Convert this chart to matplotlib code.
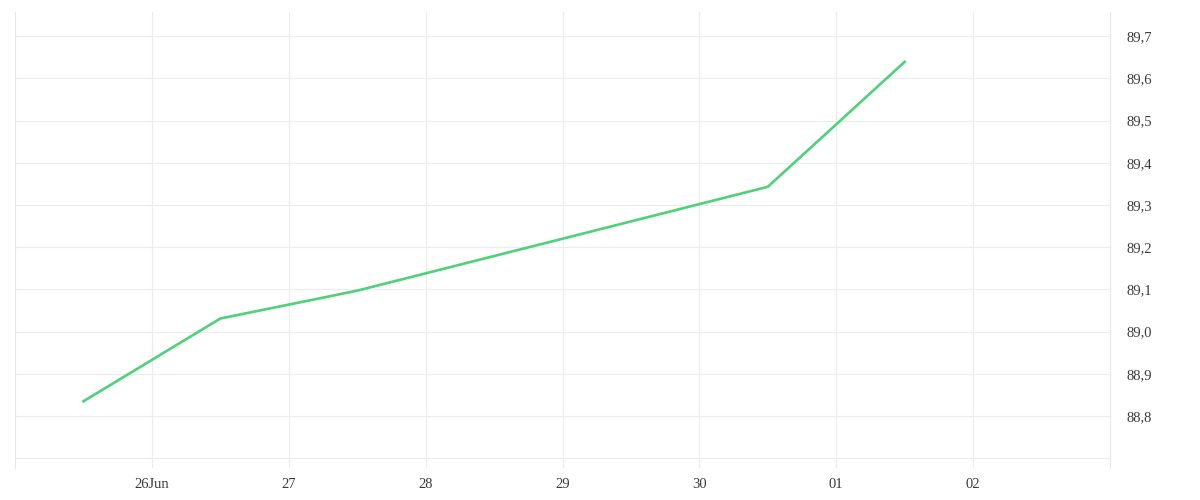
import matplotlib.pyplot as plt
import matplotlib.dates as mdates
from matplotlib.ticker import FuncFormatter, MultipleLocator
import pandas as pd

dates = pd.to_datetime(['2024-06-25 12:00', '2024-06-26 12:00', '2024-06-27 12:00',
                        '2024-06-30 12:00', '2024-07-01 12:00'])
values = [88.835, 89.031, 89.097, 89.343, 89.639]

tick_dates = pd.date_range('2024-06-26', '2024-07-02', freq='D')
tick_labels = ['26Jun', '27', '28', '29', '30', '01', '02']

plt.rcParams['font.family'] = ['Liberation Serif', 'DejaVu Serif']

fig = plt.figure(figsize=(12, 5), dpi=100)
ax = fig.add_axes([0.0125, 0.064, 0.9125, 0.912])

ax.plot(dates, values, color='#4fd17a', linewidth=1.9, solid_joinstyle='miter')

ax.set_xlim(pd.Timestamp('2024-06-25'), pd.Timestamp('2024-07-03'))
ax.set_ylim(88.677, 89.757)

ax.set_xticks(tick_dates)
ax.set_xticklabels(tick_labels)
ax.yaxis.set_major_locator(MultipleLocator(0.1))
ax.yaxis.set_major_formatter(FuncFormatter(
    lambda v, p: '' if v < 88.75 else f'{v:.1f}'.replace('.', ',')))
ax.yaxis.tick_right()

ax.grid(True, color='#ececec', linewidth=0.8)
ax.set_axisbelow(True)
for side in ['top', 'bottom']:
    ax.spines[side].set_visible(False)
for side in ['left', 'right']:
    ax.spines[side].set_color('#e6e6e6')
    ax.spines[side].set_linewidth(0.8)

ax.tick_params(axis='both', length=0, labelsize=10.5, colors='#3a3a3a')
ax.tick_params(axis='y', pad=12)
ax.tick_params(axis='x', pad=7)

fig.savefig('out.png', dpi=100)
